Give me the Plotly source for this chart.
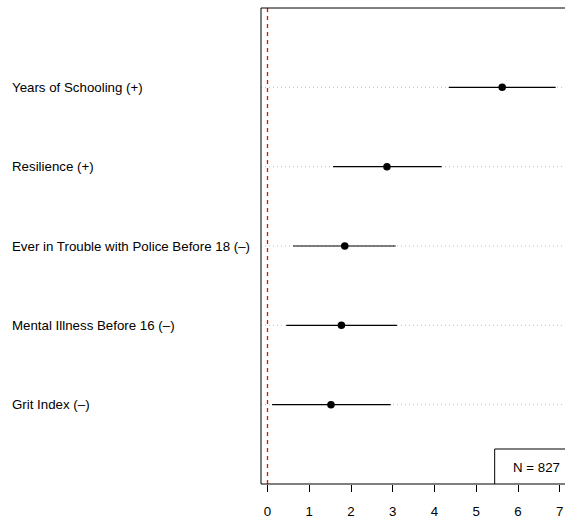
import plotly.graph_objects as go

labels = ["Years of Schooling (+)", "Resilience (+)",
          "Ever in Trouble with Police Before 18 (\u2013)",
          "Mental Illness Before 16 (\u2013)", "Grit Index (\u2013)"]
rows = [5, 4, 3, 2, 1]
estimates = [5.62, 2.86, 1.85, 1.77, 1.52]
ci_low = [4.34, 1.57, 0.61, 0.45, 0.11]
ci_high = [6.90, 4.17, 3.07, 3.10, 2.95]
x_ticks = [0, 1, 2, 3, 4, 5, 6, 7]
n_label = "N = 827"

W, H = 565, 521
L, R, T, B = 261, 0, 8, 37
x_range = [-0.1557, 7.124]
y_range = [0, 6]

FONT = "Liberation Sans, Arial, Helvetica, sans-serif"
FS = 13.3

fig = go.Figure()

shapes = []
# dotted guide lines
for r in rows:
    shapes.append(dict(type="line", xref="paper", yref="y", x0=0, x1=1, y0=r, y1=r,
                       line=dict(color="#bebebe", width=1, dash="1px,3px"), layer="below"))
# CI segments
for r, lo, hi in zip(rows, ci_low, ci_high):
    shapes.append(dict(type="line", xref="x", yref="y", x0=lo, x1=hi, y0=r, y1=r,
                       line=dict(color="black", width=1.2)))
# box borders (left, top, bottom)
shapes.append(dict(type="line", xref="paper", yref="paper", x0=0, x1=0, y0=0, y1=1,
                   line=dict(color="black", width=1)))
shapes.append(dict(type="line", xref="paper", yref="paper", x0=0, x1=1, y0=1, y1=1,
                   line=dict(color="black", width=1)))
shapes.append(dict(type="line", xref="paper", yref="paper", x0=0, x1=1, y0=0, y1=0,
                   line=dict(color="black", width=1)))
# legend box (N)
shapes.append(dict(type="path", xref="x", yref="y",
                   path="M 5.44,0 L 5.44,0.441 L 7.3,0.441",
                   line=dict(color="black", width=1)))

# red dashed zero line (as a trace so it renders crisply)
fig.add_trace(go.Scatter(x=[0, 0], y=y_range, mode="lines",
                         line=dict(color="#ff0000", width=1.3, dash="4px,4px"),
                         hoverinfo="skip", showlegend=False, cliponaxis=False))

fig.add_trace(go.Scatter(x=estimates, y=rows, mode="markers",
                         marker=dict(color="black", size=7.5), hoverinfo="skip",
                         showlegend=False))

annotations = []
for lab, r in zip(labels, rows):
    annotations.append(dict(text=lab, xref="paper", yref="y",
                            x=(10 - L) / (W - L - R), y=r, xanchor="left", yanchor="middle",
                            showarrow=False, font=dict(size=FS, color="black", family=FONT)))
annotations.append(dict(text=n_label, xref="x", yref="y", x=5.82, y=0.214,
                        xanchor="left", yanchor="middle", showarrow=False,
                        font=dict(size=FS, color="black", family=FONT)))

fig.update_layout(
    width=W, height=H,
    margin=dict(l=L, r=R, t=T, b=B, pad=0),
    paper_bgcolor="white", plot_bgcolor="white",
    shapes=shapes, annotations=annotations,
    xaxis=dict(range=x_range, tickvals=x_ticks, ticktext=[str(v) for v in x_ticks],
               showgrid=False, zeroline=False, showline=False,
               ticks="outside", ticklen=7, tickcolor="black", tickwidth=1,
               ticklabelstandoff=8,
               tickfont=dict(size=FS, color="black", family=FONT), fixedrange=True),
    yaxis=dict(range=y_range, showgrid=False, zeroline=False, showline=False,
               showticklabels=False, ticks="", fixedrange=True),
    font=dict(family=FONT),
)

fig.write_html("out.html", config={"displayModeBar": False},
               post_script="document.body.style.margin='0';document.body.style.overflow='hidden';")
